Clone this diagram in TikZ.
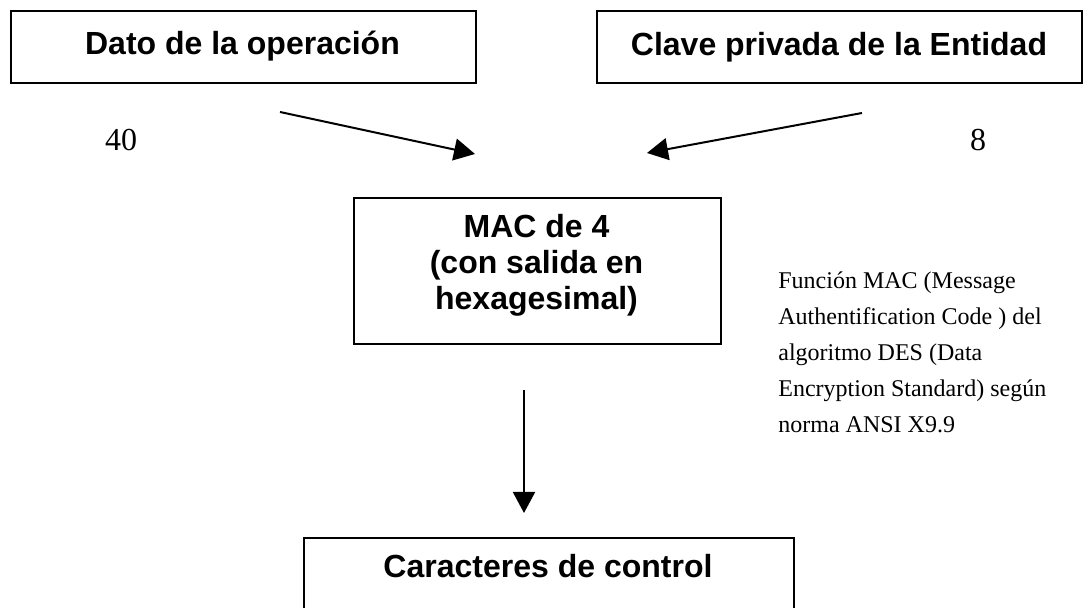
\documentclass[tikz,border=0pt]{standalone}
\usepackage{fontspec}
\setmainfont{Liberation Serif}
\setsansfont{Liberation Sans}
\usetikzlibrary{arrows.meta, positioning}

\tikzset{
  caja/.style={draw, line width=1.2pt, inner sep=0pt},
  titulo/.style={font=\sffamily\bfseries\fontsize{16}{18}\selectfont, inner sep=0pt, align=center},
  cifra/.style={font=\fontsize{16}{16}\selectfont, inner sep=0pt},
  nota/.style={font=\fontsize{12}{18}\selectfont, inner sep=0pt, align=left},
  flecha/.style={line width=1pt, -{Triangle[length=10.5pt, width=11pt]}}
}

\begin{document}
\begin{tikzpicture}[x=0.5pt, y=-0.5pt]
  \useasboundingbox (0,0) rectangle (1083,608);
  % cajas
  \node[caja, minimum width=232.5pt, minimum height=36pt, anchor=north west] (dato) at (10,10) {};
  \node[caja, minimum width=242.5pt, minimum height=36pt, anchor=north west] (clave) at (596,10) {};
  \node[caja, minimum width=183.5pt, minimum height=73pt, anchor=north west] (mac) at (353,197) {};
  \node[caja, minimum width=245pt, minimum height=50pt, anchor=north west] (control) at (303,537) {};
  % textos de las cajas
  \node[titulo, anchor=base] (datotxt) at (242.5,55) {Dato de la operación};
  \node[titulo, anchor=base] (clavetxt) at (839,56) {Clave privada de la Entidad};
  \node[titulo, anchor=base] (mactxt) at (536.5,310) {MAC de 4\\(con salida en\\hexagesimal)};
  \node[titulo, anchor=base] (controltxt) at (548,578) {Caracteres de control};
  % longitudes
  \node[cifra, anchor=base] (n40) at (121,151) {40};
  \node[cifra, anchor=base] (n8) at (978,151) {8};
  % nota
  \node[nota, anchor=base west] (notamac) at (778,433) {Función MAC (Message\\Authentification Code ) del\\algoritmo DES (Data\\Encryption Standard) según\\norma ANSI X9.9};
  % flechas
  \coordinate (datosal) at (280,112);
  \coordinate (macent1) at (475,154);
  \coordinate (clavesal) at (862,113);
  \coordinate (macent2) at (647,153);
  \coordinate (macsal) at (524,390);
  \coordinate (controlent) at (524,513);
  \draw[flecha] (datosal) -- (macent1);
  \draw[flecha] (clavesal) -- (macent2);
  \draw[flecha] (macsal) -- (controlent);
\end{tikzpicture}
\end{document}
